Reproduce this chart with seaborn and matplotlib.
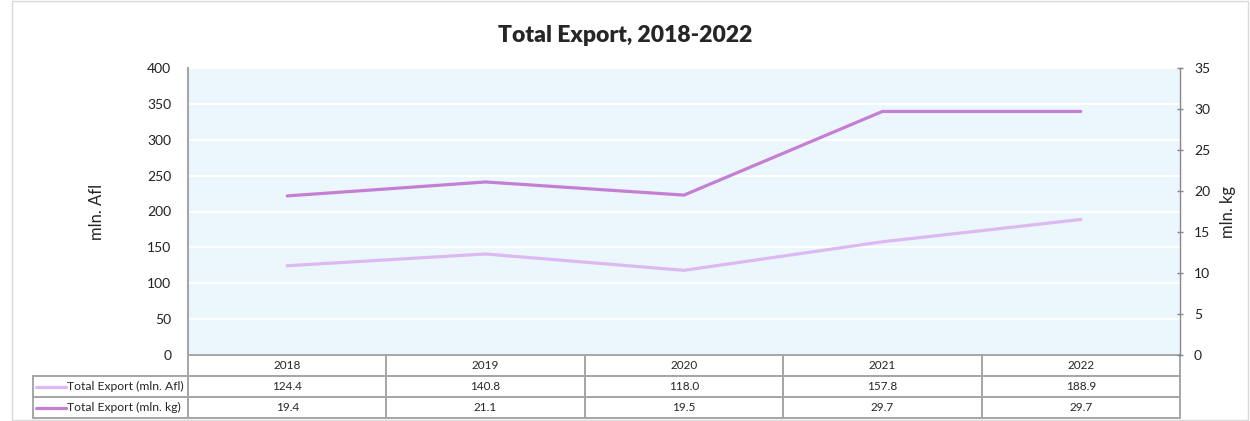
import matplotlib
matplotlib.use("Agg")
import matplotlib.pyplot as plt
import seaborn as sns
from matplotlib.patches import Rectangle
from matplotlib.lines import Line2D

years = ["2018", "2019", "2020", "2021", "2022"]
export_afl = [124.4, 140.8, 118.0, 157.8, 188.9]
export_kg = [19.4, 21.1, 19.5, 29.7, 29.7]
series_names = ["Total Export (mln. Afl)", "Total Export (mln. kg)"]

color_afl = "#DDB9F2"
color_kg = "#C47FD5"
grid_grey = "#A6A6A6"

sns.set_style("white")
plt.rcParams["font.family"] = ["Lato", "DejaVu Sans"]

fig = plt.figure(figsize=(12.5, 4.21), dpi=100)
W, H = 1250, 421
# plot area in pixels: x 188..1180, y 68..355
ax = fig.add_axes([188 / W, (H - 355) / H, 992 / W, 287 / H])
ax.set_facecolor("#EBF6FD")

pos = list(range(len(years)))
sns.lineplot(x=pos, y=export_afl, ax=ax, color=color_afl, linewidth=2.3)
ax.set_xlim(-0.5, len(years) - 0.5)
ax.set_ylim(0, 400)
ax.set_yticks(range(0, 401, 50))
ax.yaxis.grid(True, color="white", linewidth=1.5)
ax.set_axisbelow(True)
ax.set_xticks([])
ax.tick_params(axis="y", labelsize=10, length=0, pad=12, colors="#222222")
ax.set_ylabel("mln. Afl", fontsize=12, labelpad=30)
for s in ["top", "right", "bottom"]:
    ax.spines[s].set_visible(False)
ax.spines["left"].set_color(grid_grey)
ax.spines["left"].set_linewidth(1.5)

ax2 = ax.twinx()
sns.lineplot(x=pos, y=export_kg, ax=ax2, color=color_kg, linewidth=2.3)
ax2.set_ylim(0, 35)
ax2.set_yticks(range(0, 36, 5))
ax2.tick_params(axis="y", labelsize=10, length=4, width=1, color="#888888",
                direction="inout", pad=8, colors="#222222")
ax2.tick_params(axis="y", color="#888888")
ax2.set_ylabel("mln. kg", fontsize=12, labelpad=7, rotation=90)
for s in ["top", "left", "bottom"]:
    ax2.spines[s].set_visible(False)
ax2.spines["right"].set_color("#888888")
ax2.spines["right"].set_linewidth(1)

fig.suptitle("Total Export, 2018-2022", fontsize=16.5, fontweight="heavy", y=0.94)

# data table drawn below the axes
row_h = 21 / 287
label_x0 = -155 / 992
col_w = 1 / len(years)
tkw = dict(transform=ax.transAxes, clip_on=False)


def cell(x0, y0, w, h):
    ax.add_patch(Rectangle((x0, y0), w, h, fill=False, edgecolor=grid_grey,
                           linewidth=1.4, **tkw))


for i, yr in enumerate(years):
    cell(i * col_w, -row_h, col_w, row_h)
    ax.text((i + 0.5) * col_w, -row_h / 2, yr, ha="center", va="center",
            fontsize=8.5, **tkw)

rows = [export_afl, export_kg]
colors = [color_afl, color_kg]
for r, (vals, name, c) in enumerate(zip(rows, series_names, colors)):
    y0 = -(r + 2) * row_h
    cell(label_x0, y0, -label_x0, row_h)
    ax.add_line(Line2D([label_x0 + 3 / 992, label_x0 + 33 / 992],
                       [y0 + row_h / 2] * 2, color=c, linewidth=2.3, **tkw))
    ax.text(label_x0 + 34 / 992, y0 + row_h / 2, name, ha="left", va="center",
            fontsize=8.7, **tkw)
    for i, v in enumerate(vals):
        cell(i * col_w, y0, col_w, row_h)
        ax.text((i + 0.5) * col_w, y0 + row_h / 2, f"{v:.1f}", ha="center",
                va="center", fontsize=8.5, **tkw)

# outer chart frame
fig.patches.append(Rectangle((12 / W, 0.002), 1236 / W, 0.996, fill=False,
                             edgecolor="#D9D9D9", linewidth=1,
                             transform=fig.transFigure, figure=fig))

fig.savefig("out.png", dpi=100, facecolor="white")
